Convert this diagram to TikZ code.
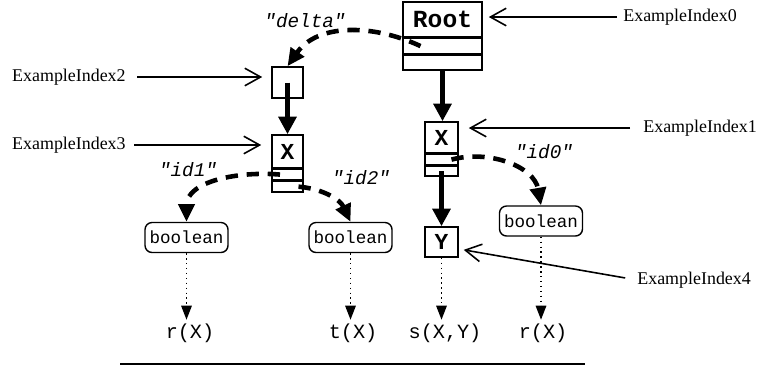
\documentclass[tikz,border=0pt]{standalone}
\usepackage{fontspec}
\setmainfont{Liberation Serif}
\setmonofont{Liberation Mono}
\usetikzlibrary{positioning,arrows.meta,calc}

\tikzset{
  cell/.style={draw, line width=0.9pt, inner sep=0pt,
    font=\fontsize{13}{13}\selectfont\ttfamily\bfseries},
  slot/.style={draw, line width=0.9pt, inner sep=0pt},
  typebox/.style={draw, rounded corners=4pt, line width=0.8pt, inner sep=0pt,
    minimum width=1.66cm, minimum height=0.6cm,
    font=\fontsize{10}{10}\selectfont\ttfamily},
  term/.style={inner sep=2pt, font=\fontsize{11.5}{12}\selectfont\ttfamily},
  tag/.style={inner sep=0pt, font=\fontsize{11}{11}\selectfont\ttfamily\itshape},
  index/.style={inner sep=0pt, font=\fontsize{10.2}{11}\selectfont},
  edge/.style={line width=2.8pt, -{Triangle[length=10pt,width=10pt]}},
  link/.style={line width=2.6pt, dash pattern=on 7pt off 5pt,
    -{Triangle[length=10pt,width=9pt]}},
  proj/.style={line width=0.8pt, dotted, -{Triangle[length=8pt,width=6pt]}},
  point/.style={line width=0.9pt, -{Straight Barb[length=9pt,width=10pt]}},
}

\begin{document}
\begin{tikzpicture}[x=0.02cm, y=0.02cm]
  \useasboundingbox (0,0) rectangle (763,-366);

  % record cells
  \node[cell, minimum width=1.58cm, minimum height=0.7cm, font=\fontsize{14}{14}\selectfont\ttfamily\bfseries] (root) at (442.5,-19.5) {Root};
  \node[slot, minimum width=1.58cm, minimum height=0.3cm, below=0pt of root] (roota) {};
  \node[slot, minimum width=1.58cm, minimum height=0.3cm, below=0pt of roota] (rootb) {};

  \node[cell, minimum size=0.62cm] (e) at (287.5,-82.5) {};

  \node[cell, minimum width=0.62cm, minimum height=0.66cm] (xl) at (287.5,-151.5) {X};
  \node[slot, minimum width=0.62cm, minimum height=0.2cm, below=0pt of xl] (xla) {};
  \node[slot, minimum width=0.62cm, minimum height=0.22cm, below=0pt of xla] (xlb) {};

  \node[cell, minimum width=0.66cm, minimum height=0.62cm] (xr) at (441.5,-137.5) {X};
  \node[slot, minimum width=0.66cm, minimum height=0.2cm, below=0pt of xr] (xra) {};
  \node[slot, minimum width=0.66cm, minimum height=0.2cm, below=0pt of xra] (xrb) {};

  \node[cell, minimum width=0.66cm, minimum height=0.6cm] (y) at (441.5,-242) {Y};

  % types
  \node[typebox] (b1) at (186.5,-237.5) {boolean};
  \node[typebox] (b2) at (350.5,-237.5) {boolean};
  \node[typebox] (b3) at (541,-221) {boolean};

  % predicates
  \node[term] (r1) at (190,-333) {r(X)};
  \node[term] (t) at (353,-333) {t(X)};
  \node[term] (s) at (445,-333) {s(X,Y)};
  \node[term] (r2) at (543,-333) {r(X)};

  % edge names
  \node[tag] (delta) at (305,-21) {"delta"};
  \node[tag] (id1) at (188,-170) {"id1"};
  \node[tag] (id2) at (361,-178) {"id2"};
  \node[tag] (id0) at (544,-152) {"id0"};

  % index names
  \node[index, anchor=west] (i0) at (623,-17) {ExampleIndex0};
  \node[index, anchor=west] (i1) at (643,-128) {ExampleIndex1};
  \node[index, anchor=east] (i2) at (126,-77) {ExampleIndex2};
  \node[index, anchor=east] (i3) at (126,-145) {ExampleIndex3};
  \node[index, anchor=west] (i4) at (637,-280) {ExampleIndex4};

  \draw[edge] (rootb.south) -- (rootb.south |- xr.north);
  \draw[edge] (xrb.center) -- (y.north);
  \draw[edge] (e.center) -- (xl.north);

  \draw[link] ([xshift=-0.44cm]roota.center) to[out=155, in=55] (e.north);
  \draw[link] ([xshift=-0.15cm]xla.center) to[out=175, in=90] (b1.north);
  \draw[link] ([xshift=0.22cm]xlb.center) to[out=-5, in=115] (b2.north);
  \draw[link] ([xshift=0.2cm]xra.center) to[out=15, in=100] (b3.north);

  \draw[proj] (b1.south) -- (b1.south |- r1.north);
  \draw[proj] (b2.south) -- (b2.south |- t.north);
  \draw[proj] (y.south) -- (y.south |- s.north);
  \draw[proj] (b3.south) -- (b3.south |- r2.north);

  \draw[point, shorten <=0.12cm, shorten >=0.12cm] (i0.west) -- (i0.west -| root.east);
  \draw[point, shorten <=0.26cm, shorten >=0.2cm] (i1.west) -- (i1.west -| xr.east);
  \draw[point, shorten <=0.22cm, shorten >=0.18cm] (i2.east) -- (i2.east -| e.west);
  \draw[point, shorten <=0.16cm, shorten >=0.2cm] (i3.east) -- (i3.east -| xl.west);
  \draw[point, shorten <=0.24cm, shorten >=0.1cm] (i4.west) -- ([yshift=-0.14cm]y.east);

  \draw[line width=0.8pt] (120,-364) -- (585,-364);
\end{tikzpicture}
\end{document}
